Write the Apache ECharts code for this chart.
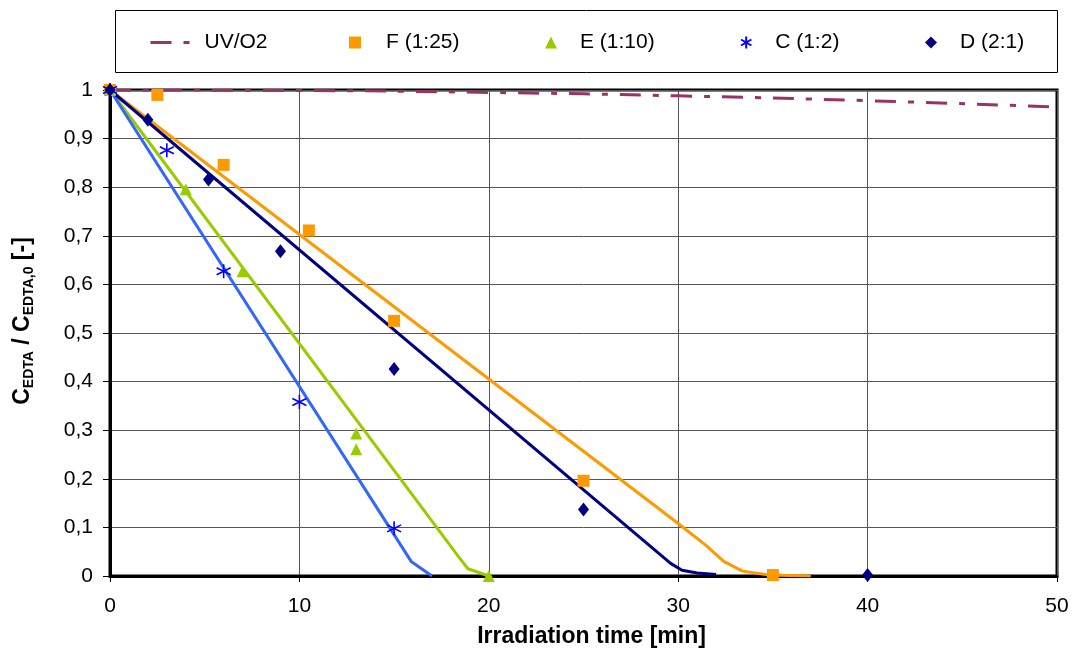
<!DOCTYPE html>
<html>
<head>
<meta charset="utf-8">
<script src="https://cdn.jsdelivr.net/npm/echarts@6/dist/echarts.min.js"></script>
<style>html,body{margin:0;padding:0;background:#fff}#c{width:1073px;height:653px}</style>
</head>
<body>
<div id="c"></div>
<script>
// ---- data ----
const seriesNames = ['UV/O2', 'F (1:25)', 'E (1:10)', 'C (1:2)', 'D (2:1)'];
const xTickLabels = ['0', '10', '20', '30', '40', '50'];
const yTickLabels = ['0', '0,1', '0,2', '0,3', '0,4', '0,5', '0,6', '0,7', '0,8', '0,9', '1'];

const uvCurve = [[0, 1], [10, 0.999], [20, 0.995], [30, 0.988], [40, 0.978], [50, 0.965]];

const fPoints = [[0, 1], [2.5, 0.99], [6, 0.846], [10.5, 0.711], [15, 0.525], [25, 0.196], [35, 0.002]];
const ePoints = [[0, 1], [4, 0.796], [7, 0.627], [13, 0.293], [13, 0.261], [20, 0]];
const cPoints = [[0, 1], [3, 0.876], [6, 0.627], [10, 0.358], [15, 0.098]];
const dPoints = [[0, 1], [2, 0.939], [5.2, 0.816], [9, 0.668], [15, 0.426], [25, 0.137], [40, 0.002]];

const fFit = [[0, 1], [30, 0.108], [31.5, 0.062], [32.4, 0.03], [33.4, 0.01], [34.8, 0.002], [37, 0]];
const eFit = [[0, 1], [18.4, 0.04], [18.9, 0.015], [20, 0]];
const cFit = [[0, 1], [15.9, 0.03], [17, 0]];
const dFit = [[0, 1], [29.6, 0.026], [30.2, 0.012], [31, 0.006], [32, 0.003]];

// ---- styles ----
const FONT = '"Liberation Sans", Arial, sans-serif';
const colF = '#FF9900', colE = '#99CC00', colC = '#0000FF', colCLine = '#3366FF', colD = '#000080', colUV = '#993366';
const asterisk = 'path://M6,0 L6,12 M0.8,3 L11.2,9 M0.8,9 L11.2,3';
const uvDash = [21, 12, 6, 12];

function legendItem(name, left, itemWidth, textX, extra) {
  return Object.assign({
    data: [name], left: left, top: 32, padding: 0,
    itemWidth: itemWidth, itemHeight: 12,
    textStyle: { fontFamily: FONT, fontSize: 21, color: '#000', padding: [0, 0, 0, textX - (left + itemWidth + 5)] },
    selectedMode: false
  }, extra || {});
}

const chart = echarts.init(document.getElementById('c'), null, { renderer: 'canvas' });
chart.setOption({
  animation: false,
  backgroundColor: '#fff',
  textStyle: { fontFamily: FONT },
  graphic: [{
    type: 'rect', left: 115, top: 10, z: -1,
    shape: { width: 942, height: 62 },
    style: { fill: '#fff', stroke: '#000', lineWidth: 1 }
  }],
  legend: [
    legendItem(seriesNames[0], 149, 40, 203, {
      itemStyle: { opacity: 0 },
      lineStyle: { width: 3, type: uvDash, color: colUV, cap: 'butt' }
    }),
    legendItem(seriesNames[1], 349, 12, 386),
    legendItem(seriesNames[2], 545, 12, 580),
    legendItem(seriesNames[3], 740, 12, 775),
    legendItem(seriesNames[4], 925, 12, 960)
  ],
  grid: { left: 110, right: 16, top: 90, bottom: 72, show: true, borderColor: '#000', borderWidth: 3, backgroundColor: 'transparent' },
  xAxis: {
    type: 'value', min: 0, max: 50, interval: 10,
    name: 'Irradiation time [min]', nameLocation: 'middle', nameGap: 49,
    nameTextStyle: { fontFamily: FONT, fontSize: 23, fontWeight: 'bold', color: '#000', padding: [0, 0, 0, 16] },
    axisLine: { show: true, lineStyle: { color: '#000', width: 3 } },
    axisTick: { show: true, length: 6, lineStyle: { color: '#000', width: 1 } },
    axisLabel: { margin: 20, fontSize: 21, color: '#000', fontFamily: FONT,
      formatter: (v, i) => xTickLabels[Math.round(v / 10)] },
    splitLine: { show: true, lineStyle: { color: '#555', width: 1 } }
  },
  yAxis: {
    type: 'value', min: 0, max: 1, interval: 0.1,
    name: '{b|C}{s|EDTA}{b| / C}{s|EDTA,0}{b| [-]}',
    nameLocation: 'middle', nameGap: 74, nameRotate: 90,
    nameTextStyle: {
      padding: [0, 0, 0, 24],
      rich: {
        b: { fontFamily: FONT, fontSize: 23, fontWeight: 'bold', color: '#000', lineHeight: 26, verticalAlign: 'middle' },
        s: { fontFamily: FONT, fontSize: 14, fontWeight: 'bold', color: '#000', lineHeight: 14, verticalAlign: 'bottom' }
      }
    },
    axisLine: { show: true, lineStyle: { color: '#000', width: 3 } },
    axisTick: { show: true, length: 7, lineStyle: { color: '#000', width: 1 } },
    axisLabel: { margin: 17, fontSize: 21, color: '#000', fontFamily: FONT,
      formatter: (v) => yTickLabels[Math.round(v * 10)] },
    splitLine: { show: true, lineStyle: { color: '#555', width: 1 } }
  },
  series: [
    { name: seriesNames[0], type: 'line', data: uvCurve, smooth: true, symbol: 'none', z: 2,
      lineStyle: { color: colUV, width: 3, type: uvDash, cap: 'butt' }, itemStyle: { color: colUV } },
    { name: 'F fit', type: 'line', data: fFit, symbol: 'none', z: 2, silent: true, lineStyle: { color: colF, width: 3 } },
    { name: 'E fit', type: 'line', data: eFit, symbol: 'none', z: 2, silent: true, lineStyle: { color: colE, width: 3 } },
    { name: 'C fit', type: 'line', data: cFit, symbol: 'none', z: 2, silent: true, lineStyle: { color: colCLine, width: 3 } },
    { name: 'D fit', type: 'line', data: dFit, symbol: 'none', z: 2, silent: true, lineStyle: { color: colD, width: 3 } },
    { name: seriesNames[1], type: 'scatter', data: fPoints, symbol: 'rect', symbolSize: 12, z: 5, itemStyle: { color: colF, opacity: 1 } },
    { name: seriesNames[2], type: 'scatter', data: ePoints, symbol: 'triangle', symbolSize: [12, 12], z: 5, itemStyle: { color: colE, opacity: 1 } },
    { name: seriesNames[3], type: 'scatter', data: cPoints, symbol: asterisk, symbolSize: 14, z: 5,
      itemStyle: { color: 'rgba(0,0,0,0)', borderColor: colC, borderWidth: 1.6, opacity: 1 } },
    { name: seriesNames[4], type: 'scatter', data: dPoints, symbol: 'diamond', symbolSize: [11, 14], z: 5, itemStyle: { color: colD, opacity: 1 } }
  ]
});
</script>
</body>
</html>
